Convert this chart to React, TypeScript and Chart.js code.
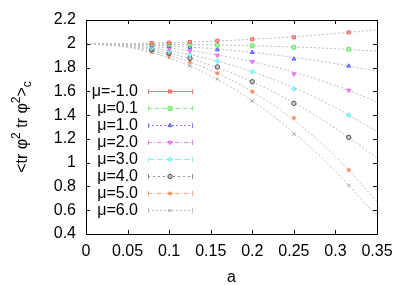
import React, { useEffect, useRef } from "react";
import { Chart, registerables } from "chart.js";
import { drawPoint } from "chart.js/helpers";

Chart.register(...registerables);

// ---- data ----
const aValues = [0.079, 0.1, 0.125, 0.158, 0.2, 0.25, 0.316];
const muLabels = ["μ=-1.0", "μ=0.1", "μ=1.0", "μ=2.0", "μ=3.0", "μ=4.0", "μ=5.0", "μ=6.0"];
const muM1 = [2.007, 2.01, 2.015, 2.025, 2.038, 2.054, 2.096];
const mu01 = [1.997, 1.995, 1.993, 1.988, 1.984, 1.97, 1.953];
const mu1 = [1.988, 1.981, 1.971, 1.95, 1.928, 1.872, 1.813];
const mu2 = [1.976, 1.961, 1.94, 1.902, 1.849, 1.746, 1.608];
const mu3 = [1.963, 1.94, 1.907, 1.852, 1.765, 1.62, 1.401];
const mu4 = [1.951, 1.921, 1.878, 1.805, 1.681, 1.499, 1.213];
const mu5 = [1.937, 1.9, 1.844, 1.752, 1.597, 1.376, 0.938];
const mu6 = [1.926, 1.881, 1.814, 1.703, 1.519, 1.239, 0.809];

// fit curves
const fitA = [0, 0.05, 0.1, 0.15, 0.2, 0.25, 0.3, 0.35];
const fitM1 = [2, 2.002, 2.009, 2.021, 2.038, 2.059, 2.086, 2.118];
const fit01 = [2, 1.999, 1.996, 1.992, 1.984, 1.973, 1.959, 1.939];
const fit1 = [2, 1.996, 1.982, 1.96, 1.928, 1.886, 1.833, 1.768];
const fit2 = [2, 1.991, 1.963, 1.916, 1.849, 1.761, 1.649, 1.513];
const fit3 = [2, 1.986, 1.942, 1.869, 1.765, 1.63, 1.463, 1.261];
const fit4 = [2, 1.98, 1.92, 1.82, 1.681, 1.504, 1.29, 1.041];
const fit5 = [2, 1.976, 1.902, 1.777, 1.597, 1.358, 1.053, 0.674];
const fit6 = [2, 1.97, 1.879, 1.729, 1.519, 1.251, 0.927, 0.546];

const xMin = 0, xMax = 0.35, xStep = 0.05;
const yMin = 0.4, yMax = 2.2, yStep = 0.2;

const seriesValues = [muM1, mu01, mu1, mu2, mu3, mu4, mu5, mu6];
const fitValues = [fitM1, fit01, fit1, fit2, fit3, fit4, fit5, fit6];

const styles = [
  { stroke: "#f06060", fill: "rgba(255,140,140,0.7)", legend: "#f08080", point: "rect", rot: 0, dash: [] as number[] },
  { stroke: "#50e850", fill: "rgba(150,255,150,0.7)", legend: "#80f080", point: "circle", rot: 0, dash: [4, 3] },
  { stroke: "#5050f0", fill: "rgba(150,150,255,0.7)", legend: "#8080f0", point: "triangle", rot: 0, dash: [2, 2] },
  { stroke: "#f050f0", fill: "rgba(255,150,255,0.8)", legend: "#f080f0", point: "triangle", rot: 180, dash: [4, 2, 1, 2] },
  { stroke: "#40f0f0", fill: "rgba(150,255,255,0.8)", legend: "#80f0f0", point: "rectRot", rot: 0, dash: [6, 3] },
  { stroke: "#505050", fill: "rgba(170,170,170,0.6)", legend: "#909090", point: "circle", rot: 0, dash: [2, 3] },
  { stroke: "#ff8050", fill: "rgba(255,170,130,0.8)", legend: "#ffa080", point: "star", rot: 0, dash: [4, 2, 1, 2] },
  { stroke: "#a0a0a0", fill: "rgba(210,210,210,0.6)", legend: "#c0c0c0", point: "crossRot", rot: 0, dash: [2, 2] },
];

const FONT = "'Liberation Sans', Arial, Helvetica, sans-serif";

const framePlugin = {
  id: "framePlugin",
  afterDatasetsDraw(chart: any) {
    const { ctx, chartArea } = chart;
    const { left, right, top, bottom } = chartArea;
    const xs = chart.scales.x;
    const ys = chart.scales.y;
    ctx.save();
    ctx.strokeStyle = "#000";
    ctx.lineWidth = 1;
    ctx.setLineDash([]);
    ctx.beginPath();
    const tl = 4;
    xs.ticks.forEach((t: any) => {
      const px = Math.round(xs.getPixelForValue(t.value)) + 0.5;
      ctx.moveTo(px, bottom);
      ctx.lineTo(px, bottom - tl);
      ctx.moveTo(px, top);
      ctx.lineTo(px, top + tl);
    });
    ys.ticks.forEach((t: any) => {
      const py = Math.round(ys.getPixelForValue(t.value)) + 0.5;
      ctx.moveTo(left, py);
      ctx.lineTo(left + tl, py);
      ctx.moveTo(right, py);
      ctx.lineTo(right - tl, py);
    });
    ctx.stroke();
    ctx.strokeRect(Math.round(left) + 0.5, Math.round(top) + 0.5, Math.round(right - left), Math.round(bottom - top));

    // legend
    const textRight = 138;
    const lineL = 148, lineR = 193, mid = 170;
    const y0 = 91, dy = 17;
    ctx.font = "16px " + FONT;
    ctx.textAlign = "right";
    ctx.textBaseline = "middle";
    muLabels.forEach((lab, i) => {
      const y = y0 + i * dy;
      const s = styles[i];
      ctx.fillStyle = "#000";
      ctx.fillText(lab, textRight, y + 1);
      ctx.strokeStyle = s.legend;
      ctx.lineWidth = 1;
      ctx.setLineDash(s.dash);
      ctx.beginPath();
      ctx.moveTo(lineL, y + 0.5);
      ctx.lineTo(lineR, y + 0.5);
      ctx.stroke();
      ctx.setLineDash([]);
      ctx.beginPath();
      ctx.moveTo(lineL + 0.5, y - 2);
      ctx.lineTo(lineL + 0.5, y + 3);
      ctx.moveTo(lineR - 0.5, y - 2);
      ctx.lineTo(lineR - 0.5, y + 3);
      ctx.stroke();
      ctx.fillStyle = s.fill;
      ctx.strokeStyle = s.stroke;
      drawPoint(ctx, { pointStyle: s.point, radius: 2.2, rotation: s.rot, borderWidth: 1 }, mid, y + 0.5);
    });

    // y axis title
    ctx.fillStyle = "#000";
    ctx.textAlign = "left";
    ctx.textBaseline = "alphabetic";
    ctx.translate(27, 127);
    ctx.rotate(-Math.PI / 2);
    const big = "16px " + FONT;
    const small = "12px " + FONT;
    const parts: [string, string, number][] = [
      ["<tr φ", big, 0],
      ["2", small, -7],
      [" tr φ", big, 0],
      ["2", small, -7],
      [">", big, 0],
      ["c", small, 4],
    ];
    let total = 0;
    parts.forEach(([t, f]) => {
      ctx.font = f;
      total += ctx.measureText(t).width;
    });
    let x = -total / 2;
    parts.forEach(([t, f, dyy]) => {
      ctx.font = f;
      ctx.fillText(t, x, dyy);
      x += ctx.measureText(t).width;
    });
    ctx.restore();

    // x title
    ctx.save();
    ctx.fillStyle = "#000";
    ctx.font = "16px " + FONT;
    ctx.textAlign = "center";
    ctx.textBaseline = "alphabetic";
    ctx.fillText("a", (left + right) / 2, 282);
    ctx.restore();
  },
};

export default function App() {
  const ref = useRef<HTMLCanvasElement | null>(null);
  useEffect(() => {
    document.body.style.margin = "0";
    const canvas = ref.current;
    if (!canvas) return;
    const datasets: any[] = [];
    fitValues.forEach((vals) => {
      datasets.push({
        data: fitA.map((a, i) => ({ x: a, y: vals[i] })),
        showLine: true,
        borderColor: "#bdbdbd",
        borderWidth: 1,
        borderDash: [2, 2],
        pointRadius: 0,
        cubicInterpolationMode: "monotone",
        order: 10,
      });
    });
    seriesValues.forEach((vals, k) => {
      const s = styles[k];
      datasets.push({
        label: muLabels[k],
        data: aValues.map((a, i) => ({ x: a, y: vals[i] })),
        showLine: false,
        pointStyle: s.point,
        pointRotation: s.rot,
        pointRadius: 2.2,
        pointBorderWidth: 1,
        borderColor: s.stroke,
        backgroundColor: s.fill,
        order: 1,
      });
    });
    const chart = new Chart(canvas, {
      type: "scatter",
      data: { datasets },
      options: {
        responsive: false,
        animation: false,
        devicePixelRatio: 1,
        layout: { padding: { top: 20, right: 30, left: 0, bottom: 0 } },
        plugins: { legend: { display: false }, tooltip: { enabled: false } },
        scales: {
          x: {
            type: "linear",
            min: xMin,
            max: xMax,
            grid: { display: false, drawTicks: false },
            border: { display: false },
            ticks: {
              stepSize: xStep,
              padding: 8,
              color: "#000",
              font: { family: FONT, size: 16 },
              maxRotation: 0,
              autoSkip: false,
              callback: (v: any) => String(Math.round(Number(v) * 100) / 100),
            },
            afterFit: (s: any) => { s.height = 51; },
          },
          y: {
            type: "linear",
            min: yMin,
            max: yMax,
            grid: { display: false, drawTicks: false },
            border: { display: false },
            ticks: {
              stepSize: yStep,
              padding: 10,
              color: "#000",
              font: { family: FONT, size: 16 },
              autoSkip: false,
              callback: (v: any) => String(Math.round(Number(v) * 10) / 10),
            },
            afterFit: (s: any) => { s.width = 86; },
          },
        },
      },
      plugins: [framePlugin],
    });
    return () => chart.destroy();
  }, []);
  return <canvas ref={ref} width={407} height={285} style={{ display: "block" }} />;
}
